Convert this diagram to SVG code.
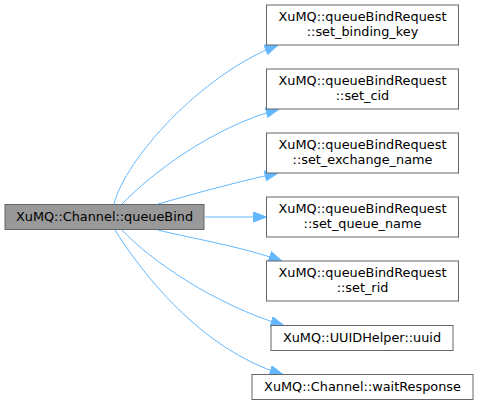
<svg xmlns="http://www.w3.org/2000/svg" width="479" height="406" viewBox="0 0 479 406">
<style>
  .node rect { fill: #ffffff; stroke: #666666; stroke-width: 1; }
  .node.main rect { fill: #999999; }
  .node text { font-family: "DejaVu Sans", "Liberation Sans", sans-serif; font-size: 12.85px; fill: #000000; text-anchor: middle; }
  .edges path { fill: none; stroke: #63b8ff; stroke-width: 1; marker-end: url(#arrow); }
</style>
<defs>
  <marker id="arrow" markerUnits="userSpaceOnUse" markerWidth="16" markerHeight="12" refX="13.5" refY="5.5" orient="auto">
    <path d="M0.5,0.5 L13.5,5.5 L0.5,10.5 z" fill="#63b8ff" stroke="#63b8ff" stroke-width="1"/>
  </marker>
</defs>
<rect x="0" y="0" width="479" height="406" fill="#ffffff"/>
<g id="edges" class="edges">
  <path d="M114,204 C125,160 200,75 278,45"/>
  <path d="M122,204 C150,175 210,128 279,109"/>
  <path d="M158,204 C190,195 232,183 278,173"/>
  <path d="M205,217 L266.5,217"/>
  <path d="M158,230 C185,237 240,246 282,261"/>
  <path d="M122,230 C150,260 215,305 284,325.5"/>
  <path d="M115,230 C140,270 200,350 283,374.5"/>
</g>
<g id="node-queueBind" class="node main">
  <rect x="5" y="204.5" width="199" height="25"/>
  <text x="104.5" y="221.3">XuMQ::Channel::queueBind</text>
</g>
<g id="node-set_binding_key" class="node">
  <rect x="266.5" y="5" width="192" height="40"/>
  <text x="362.5" y="20.7">XuMQ::queueBindRequest</text>
  <text x="362.5" y="35.7">::set_binding_key</text>
</g>
<g id="node-set_cid" class="node">
  <rect x="266.5" y="69" width="192" height="40"/>
  <text x="362.5" y="84.7">XuMQ::queueBindRequest</text>
  <text x="362.5" y="99.7">::set_cid</text>
</g>
<g id="node-set_exchange_name" class="node">
  <rect x="266.5" y="133" width="192" height="40"/>
  <text x="362.5" y="148.7">XuMQ::queueBindRequest</text>
  <text x="362.5" y="163.7">::set_exchange_name</text>
</g>
<g id="node-set_queue_name" class="node">
  <rect x="266.5" y="197" width="192" height="40"/>
  <text x="362.5" y="212.7">XuMQ::queueBindRequest</text>
  <text x="362.5" y="227.7">::set_queue_name</text>
</g>
<g id="node-set_rid" class="node">
  <rect x="266.5" y="261" width="192" height="40"/>
  <text x="362.5" y="276.7">XuMQ::queueBindRequest</text>
  <text x="362.5" y="291.7">::set_rid</text>
</g>
<g id="node-uuid" class="node">
  <rect x="271" y="325.5" width="182" height="25"/>
  <text x="362" y="342.3">XuMQ::UUIDHelper::uuid</text>
</g>
<g id="node-waitResponse" class="node">
  <rect x="252" y="374.5" width="221" height="25"/>
  <text x="362.5" y="391.3">XuMQ::Channel::waitResponse</text>
</g>
</svg>
